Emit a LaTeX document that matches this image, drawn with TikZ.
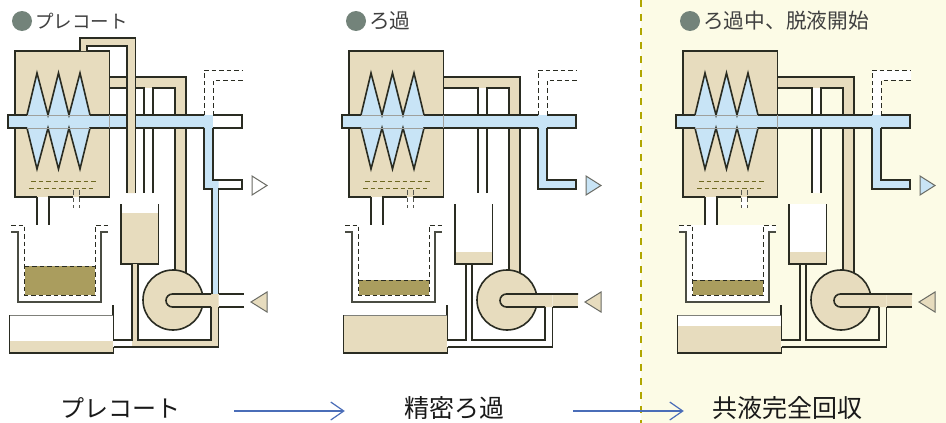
\documentclass[tikz,border=0pt]{standalone}
\usepackage{fontspec}
\usepackage{tikz}
\usetikzlibrary{arrows.meta}
\newfontfamily\jpfont{Noto Sans CJK JP}
\definecolor{tanfill}{HTML}{E7DCBE}
\definecolor{bluefill}{HTML}{C8E4F6}
\definecolor{cakefill}{HTML}{AA9D5E}
\definecolor{wireink}{HTML}{2A2C22}
\definecolor{creamback}{HTML}{FCFBE6}
\definecolor{dotfill}{HTML}{73837A}
\definecolor{flowblue}{HTML}{4A6DB8}
\tikzset{
    wire/.style={draw=wireink,line width=1.6pt},
    dashwire/.style={draw=wireink,line width=1pt,dash pattern=on 4.5pt off 3pt},
    tipmark/.style={draw=wireink!70,line width=1pt,line join=miter},
    titletext/.style={font=\jpfont\fontsize{20.7}{22}\selectfont,text=black!75,anchor=west,inner sep=0pt},
    steptext/.style={font=\jpfont\fontsize{25}{27}\selectfont,text=black!90,inner sep=0pt,text height=18pt,text depth=6pt},
    flowarrow/.style={draw=flowblue,line width=1.2pt,-{Straight Barb[length=13pt,width=18pt,line width=1.2pt]}},
    titledot/.style={circle,fill=dotfill,inner sep=0pt,minimum size=20pt},
}
% parts that all three panels share
% #1 tail of shaft, #2 tank level, #3 cake top
\newcommand{\filterpanel}[3]{
    % tan return pipe and drain channel
    \fill[tanfill] (109,77) -- (186,77) -- (186,273) -- (175,273) -- (175,88) -- (109,88) -- cycle;
    \fill[white] (144,88) rectangle (153,193);
    \draw[wire] (109,77) -- (186,77) -- (186,273);
    \draw[wire] (109,88) -- (144,88) -- (144,193);
    \draw[wire] (153,193) -- (153,88) -- (175,88) -- (175,273);
    % dashed vent above shaft
    \fill[white] (204,115) -- (204,70) -- (243,70) -- (243,80) -- (213,80) -- (213,115) -- cycle;
    \draw[dashwire] (204,115) -- (204,70) -- (243,70);
    \draw[dashwire] (213,115) -- (213,80) -- (243,80);
    % filter housing
    \fill[tanfill] (15,51) rectangle (109.5,197);
    \fill[white] (37,197) rectangle (49,238);
    \fill[white] (73,197) rectangle (79,208);
    \draw[wire] (37,197) -- (15,197) -- (15,51) -- (109.5,51) -- (109.5,197) -- (79,197);
    \draw[wire] (73,197) -- (49,197) -- (49,238) -- (37,238) -- (37,197);
    \draw[dashwire,draw=wireink!80] (73,190) -- (73,208);
    \draw[dashwire,draw=wireink!80] (79,190) -- (79,208);
    \draw[dashwire,draw=olive!70!black] (31,181) -- (96,181);
    \draw[dashwire,draw=olive!70!black] (29,188) -- (93,188);
    % shaft with filter leaves
    \fill[bluefill] (8,115) -- (27,115) -- (37,73) -- (48,115) -- (58.5,73) -- (69,115) -- (80,73) -- (90,115)
        -- (242,115) -- (242,128) -- (90,128) -- (80,169) -- (69,128) -- (58.5,169) -- (48,128) -- (37,169) -- (27,128) -- (8,128) -- cycle;
    \fill[#1] (213,115) rectangle (242,128);
    \draw[wire] (27,128) -- (8,128) -- (8,115) -- (27,115) -- (37,73) -- (48,115) -- (58.5,73) -- (69,115) -- (80,73) -- (90,115) -- (204,115);
    \draw[wire] (213,115) -- (242,115) -- (242,128) -- (213,128);
    \draw[wire] (204,128) -- (90,128) -- (80,169) -- (69,128) -- (58.5,169) -- (48,128) -- (37,169) -- (27,128);
    \draw[draw=wireink!45,line width=0.4pt] (27,115) -- (90,115) (27,128) -- (90,128) (109.5,115) -- (109.5,128);
    % dip tank
    \fill[white] (18,232) -- (11,232) -- (11,225) -- (108,225) -- (108,232) -- (101,232) -- (101,302) -- (18,302) -- cycle;
    \fill[cakefill] (24.5,#3) rectangle (95,295);
    \draw[wire,line width=1.2pt,draw=wireink!85] (11,232) -- (18,232) -- (18,302) -- (101,302) -- (101,232) -- (108,232);
    \draw[dashwire] (11,225) -- (24.5,225) -- (24.5,295) -- (95,295) -- (95,225) -- (108,225);
    \draw[dashwire] (24.5,#3) -- (95,#3);
    % measuring tank
    \fill[white] (121,204) rectangle (158.5,264);
    \fill[tanfill] (121,#2) rectangle (158.5,264);
    \draw[wire] (121,204) -- (121,264) -- (158.5,264) -- (158.5,204);
}
% pump and lower tank go last so the fills of panel one stay under them
% #1 tail of inlet, #2 and #3 gap in the top line of the inlet
\newcommand{\pumppanel}[3]{
    \draw[wire,fill=tanfill] (173,300) circle (30pt);
    \fill[tanfill] (172.5,294) arc[start angle=90,end angle=270,radius=6.5pt] -- (218.5,307) -- (218.5,294) -- cycle;
    \fill[#1] (218.5,294) rectangle (244,307);
    \draw[wire] (244,307) -- (218.5,307);
    \draw[wire] (211,307) -- (172.5,307) arc[start angle=270,end angle=90,radius=6.5pt] -- (#2,294);
    \draw[wire] (#3,294) -- (244,294);
    \draw[wire] (132,264) -- (132,340) -- (113,340) -- (113,305);
    \draw[wire] (138,264) -- (138,340) -- (211,340) -- (211,307);
    \draw[wire] (113.5,347) -- (218.5,347) -- (218.5,307);
}
\newcommand{\lowertank}[1]{
    \fill[white] (9.5,315) rectangle (113,353);
    \fill[tanfill] (9.5,#1) rectangle (113,353);
    \draw[draw=wireink!60,line width=0.6pt] (9.5,315) -- (113,315);
    \draw[wire] (9.5,315) -- (9.5,353) -- (113.5,353) -- (113.5,347);
}
\newcommand{\blueoutlet}{
    \fill[bluefill] (204,128) -- (204,189) -- (242,189) -- (242,180) -- (213,180) -- (213,128) -- cycle;
    \draw[wire] (204,128) -- (204,189) -- (242,189) -- (242,180) -- (213,180) -- (213,128);
}
\begin{document}
\begin{tikzpicture}[x=1pt,y=-1pt]
    \useasboundingbox (0,0) rectangle (946,423);
    \fill[white] (0,0) rectangle (946,423);
    \fill[creamback] (641,0) rectangle (946,423);
    \draw[draw=olive!70!yellow,line width=1.2pt,dash pattern=on 7pt off 7pt] (641,0) -- (641,423);

    % titles
    \node[titledot] (dota) at (22,21) {};
    \node[titletext,font=\jpfont\fontsize{18.5}{20}\selectfont] (titlea) at (35,21) {プレコート};
    \node[titledot] (dotb) at (356,21) {};
    \node[titletext] (titleb) at (369,21) {ろ過};
    \node[titledot] (dotc) at (690,21) {};
    \node[titletext] (titlec) at (703,21) {ろ過中、脱液開始};

    % left panel
    \begin{scope}
        \filterpanel{white}{213}{266}
        % tan feed pipe over the shaft
        \fill[tanfill] (80,51) -- (80,38) -- (135.5,38) -- (135.5,193) -- (127,193) -- (127,46) -- (87,46) -- (87,51) -- cycle;
        \draw[wire] (80,51) -- (80,38) -- (135.5,38) -- (135.5,193);
        \draw[wire] (87,51) -- (87,46) -- (127,46) -- (127,193);
        % blue outlet dropping to the pump
        \fill[bluefill] (204,128) -- (204,189) -- (212,189) -- (212,294) -- (218.5,294) -- (218.5,180) -- (213,180) -- (213,128) -- cycle;
        \draw[wire] (204,128) -- (204,189) -- (212,189) -- (212,294);
        \draw[wire] (213,128) -- (213,180) -- (242,180) -- (242,189) -- (218.5,189) -- (218.5,294);
        % tan return under the tank
        \fill[tanfill] (132,264) -- (138,264) -- (138,340) -- (211,340) -- (211,307) -- (218.5,307) -- (218.5,347) -- (132,347) -- cycle;
        \pumppanel{white}{211}{218.5}
        \lowertank{341}
        \draw[tipmark,fill=white] (252,176) -- (267,185.5) -- (252,195) -- cycle;
        \draw[tipmark,fill=tanfill] (267,292) -- (251,302) -- (267,312) -- cycle;
    \end{scope}

    % middle panel
    \begin{scope}[shift={(334,0)}]
        \filterpanel{bluefill}{252}{280}
        \blueoutlet
        \pumppanel{tanfill}{244}{244}
        \lowertank{316}
        \draw[tipmark,fill=bluefill] (252,176) -- (267,185.5) -- (252,195) -- cycle;
        \draw[tipmark,fill=tanfill] (267,292) -- (251,302) -- (267,312) -- cycle;
    \end{scope}

    % right panel
    \begin{scope}[shift={(668,0)}]
        \filterpanel{bluefill}{252}{280}
        \blueoutlet
        \pumppanel{tanfill}{244}{244}
        \lowertank{326}
        \draw[tipmark,fill=bluefill] (252,176) -- (267,185.5) -- (252,195) -- cycle;
        \draw[tipmark,fill=tanfill] (267,292) -- (251,302) -- (267,312) -- cycle;
    \end{scope}

    % step names
    \node[steptext,font=\jpfont\fontsize{24}{26}\selectfont] (stepa) at (120,411) {プレコート};
    \node[steptext] (stepb) at (454,411) {精密ろ過};
    \node[steptext] (stepc) at (787,411) {共液完全回収};
    \draw[flowarrow,shorten <=54pt,shorten >=59pt] (stepa.east) -- (stepb.west);
    \draw[flowarrow,shorten <=69pt,shorten >=28pt] (stepb.east) -- (stepc.west);
\end{tikzpicture}
\end{document}
